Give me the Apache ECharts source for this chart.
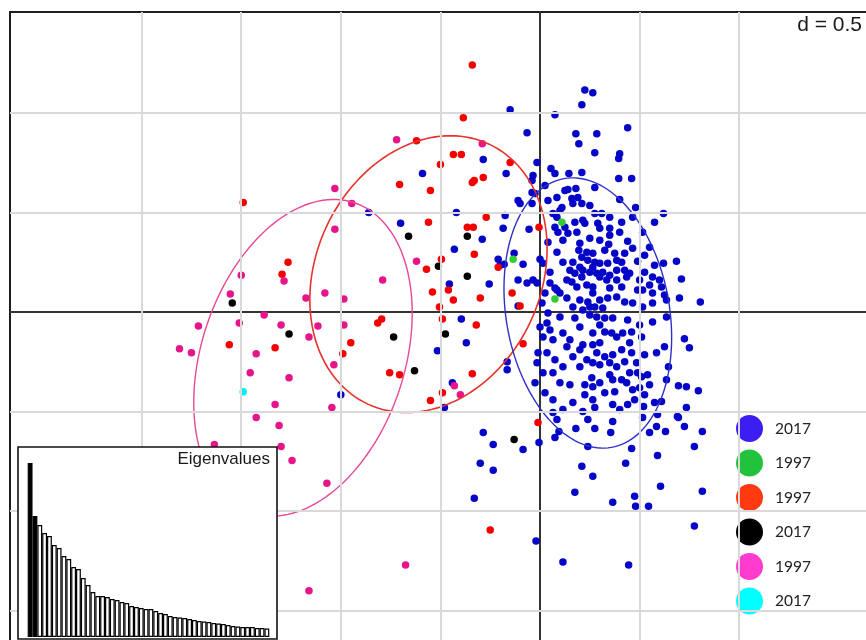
<!DOCTYPE html>
<html>
<head>
<meta charset="utf-8">
<title>s.class</title>
<script src="https://cdn.jsdelivr.net/npm/echarts@6/dist/echarts.min.js"></script>
<style>
html, body { margin: 0; padding: 0; background: #fff; }
#main { width: 866px; height: 640px; }
</style>
</head>
<body>
<div id="main"></div>
<script>
// scores on axes 1/2, one grid square = d = 0.5
var pts2017Blue = [
  [-0.15,1.015],[-0.065,0.9],[-0.015,0.75],[-0.17,0.695],[-0.59,0.695],[-0.285,0.765],[-0.035,0.685],[-0.04,0.66],[0.055,0.72],[0.075,0.695],[0.145,0.695],[0.21,0.7],[0.275,0.8],[0.18,0.895],[0.195,0.845],[0.285,0.895],[0.21,1.04],[0.225,1.115],[0.265,1.1],[0.075,0.99],[0.44,0.925],[0.4,0.795],[0.395,0.77],[0.395,0.67],[0.46,0.67],[0.275,0.625],[0.125,0.61],[0.14,0.615],[0.18,0.62],[-0.04,0.6],[-0.025,0.595],[0.085,0.575],
  [0.16,0.57],[0.19,0.575],[0.21,0.545],[0.165,0.545],[-0.1,0.545],[-0.04,0.545],[0.11,0.525],[0.1,0.51],[0.4,0.565],[0.48,0.525],[-0.175,0.485],[0.065,0.495],[0.085,0.475],[0.275,0.495],[0.31,0.495],[0.35,0.475],[0.465,0.475],[0.575,0.45],[0.62,0.495],[0.175,0.45],[0.225,0.445],[0.075,0.425],[0.09,0.4],[0.125,0.425],[0.14,0.395],[0.115,0.36],[0.185,0.4],[-0.055,0.415],[-0.185,0.42],[0.29,0.445],[0.3,0.42],[0.515,0.4],[0.345,0.34],[0.44,0.355],[-0.86,0.5],[-0.42,0.5],[-0.7,0.445],[-0.29,0.365],[-0.11,0.56],[-0.43,0.315],[-0.21,0.265],[-0.18,0.24],[-0.085,0.24],[0,0.265],[0.195,0.31],[0.235,0.3],[0.265,0.295],[0.21,0.275],[0.24,0.26],[0.375,0.295],[0.425,0.295],[0.525,0.285],[-0.13,0.295],[0.115,0.25],[0.165,0.25],[0.015,0.245],[0.2,0.345],
  [0.275,0.25],[0.3,0.245],[0.34,0.245],[0.385,0.26],[0.41,0.25],[0.49,0.255],[0.62,0.245],[0.685,0.255],[-0.2,0.235],[0.05,0.2],[0.15,0.21],[0.175,0.195],[0.215,0.21],[0.25,0.2],[0.285,0.195],[0.315,0.2],[0.35,0.185],[0.385,0.21],[0.425,0.21],[0.45,0.195],[0.3,0.175],[0.335,0.16],[0.385,0.16],[0.435,0.175],[0.135,0.16],[0.16,0.15],[0.21,0.175],[0.235,0.135],[0.265,0.125],[0.565,0.175],[0.6,0.16],[0.61,0.125],[0.71,0.165],[0.49,0.11],[0.515,0.11],[0.565,0.095],[0.625,0.085],[-0.11,0.16],[-0.065,0.145],[-0.035,0.16],[-0.015,0.145],[0.01,0.045],[0.05,0.145],[0.075,0.12],[0.1,0.095],[0.135,0.07],[0.165,0.025],[0.2,0.06],[0.24,0.05],[0.275,0.025],[0.3,0.06],[0.34,0.07],[0.385,0.075],[0.425,0.05],[0.465,0.045],[0.515,0.025],[0.565,0.045],[0.635,0.06],[0.7,0.07],[0.805,0.05],[0.025,0.095],[0.41,0.125],[0.35,0.12],[-0.455,0.14],[-0.255,0.14],[-0.11,0.03],
  [0.635,-0.025],[0.215,0.01],[0.25,-0.015],[0.285,-0.025],[0.325,-0.03],[0.365,-0.03],[0.565,-0.05],[0.2,-0.075],[0.265,-0.105],[0.325,-0.1],[0.36,-0.105],[0.385,-0.125],[0.415,-0.105],[0.46,-0.1],[0.51,-0.125],[0.625,-0.175],[0.585,-0.205],[0.725,-0.135],[0.75,-0.18],[0.215,-0.165],[0.265,-0.165],[0.285,-0.205],[0.325,-0.225],[0.365,-0.215],[0.41,-0.19],[0.45,-0.155],[0.46,-0.205],[-0.395,-0.035],[-0.37,-0.155],[-0.515,-0.195],[0,-0.075],[0.035,-0.055],[0.015,-0.125],[0.065,-0.14],[-0.01,-0.205],[0.035,-0.205],[0.115,-0.105],[0.135,-0.175],[0.165,-0.225],[0.315,0.02],
  [0.485,-0.255],[0.49,-0.305],[0.51,-0.325],[0.54,-0.315],[0.55,-0.365],[0.645,-0.275],[0.635,-0.34],[0.235,-0.24],[0.265,-0.255],[0.3,-0.265],[0.35,-0.255],[0.385,-0.275],[0.365,-0.34],[0.41,-0.34],[0.435,-0.355],[0.45,-0.305],[0.465,-0.39],[0.26,-0.33],[0.265,-0.375],[0.225,-0.365],[0.325,-0.405],[0.375,-0.4],[0.695,-0.37],[0.735,-0.375],[0.795,-0.395],[0.475,-0.44],[0.4,-0.49],[0.265,-0.44],[0.275,-0.48],[0.365,-0.465],[0.575,-0.455],[0.61,-0.45],[0.735,-0.48],[0.69,-0.525],[0.59,-0.515],[-0.015,-0.255],[0.015,-0.305],[0.065,-0.305],[-0.025,-0.355],[0.025,-0.405],[0.065,-0.44],[0.115,-0.49],[0.065,-0.505],[0.2,-0.275],[0.115,-0.275],[0.165,-0.455],[-0.165,-0.25],[-0.165,-0.29],[-0.44,-0.355],[-0.48,-0.48],[-1.0,-0.415],[0.215,-0.5],
  [0.24,-0.54],[0.275,-0.585],[0.365,-0.55],[0.355,-0.605],[0.44,-0.465],[0.52,-0.475],[0.515,-0.53],[0.585,-0.575],[0.55,-0.605],[0.63,-0.6],[0.695,-0.53],[0.725,-0.575],[0.815,-0.6],[0.775,-0.675],[0.24,-0.675],[0.46,-0.685],[0.59,-0.72],[0.21,-0.775],[0.43,-0.76],[0.265,-0.825],[0.605,-0.875],[0.365,-0.955],[0.475,-0.925],[0.48,-0.975],[0.545,-0.975],[0.815,-0.9],[0.775,-1.075],[0.445,-1.27],[-0.285,-0.605],[-0.235,-0.665],[-0.085,-0.69],[-0.005,-0.655],[0.085,-0.54],[0.095,-0.6],[0.075,-0.63],[0.18,-0.585],[-0.3,-0.76],[-0.235,-0.795],[-0.33,-0.935],[0.175,-0.905],[-0.02,-1.15],[0.115,-1.255],
  [0.215,0.46],[0.265,0.225],[0.2,0.225],[0.085,0.11],[0.185,0.125],[0.265,0.095],[0.25,0.025],[0.3,0.36],[0.35,0.385],[0.25,0.37],[0.4,0.4],[0.465,0.32],[0.55,0.325],[0.575,0.235],[0.525,0.2],[0.5,0.16],[0.55,0.135],[0.3,-0.065],[0.44,-0.04],[0.5,-0.065],[0.175,-0.03],[0.15,-0.14],[0.2,-0.19],[0.3,-0.155],[0.425,-0.25],[0.525,-0.215],[0.525,-0.415],[0.35,-0.315],[0.3,-0.355],[0.225,-0.415],[0.5,-0.38],[0.15,-0.365],[0.1,-0.355],[0.075,-0.24],[0.05,-0.09],[0.04,-0.005],[0.1,-0.025],[0.04,0.35],[0.085,0.3],[0.325,0.31],[0.35,0.42],[0.41,0.45],[0.25,0.535],[0.025,0.635],[0.04,0.56]
];
var pts1997Green = [[0.11,0.45],[-0.135,0.265],[0.075,0.065]];
var pts1997Red = [
  [-0.34,1.24],[-0.385,0.975],[-0.62,0.86],[-0.435,0.79],[-0.395,0.79],[-0.5,0.74],[-0.15,0.75],[-0.285,0.675],[-0.33,0.66],[-0.34,0.65],[-0.705,0.64],[-0.55,0.61],[-0.27,0.475],[-0.56,0.45],[-0.365,0.425],[-0.335,0.425],[-0.33,0.29],[-0.495,0.265],[-0.57,0.215],[-0.21,0.225],[-0.46,0.11],[-0.435,0.06],[-0.3,0.07],[-0.54,0.1],[-0.505,0.025],[-0.14,0.095],[-0.1,0.03],[-0.815,-0.055],[-0.795,-0.035],[-0.95,-0.155],[-0.99,-0.21],[-0.49,-0.035],[-0.32,-0.065],[-0.755,-0.305],[-0.705,-0.315],[-0.34,-0.31],[-0.085,-0.16],[-0.49,-0.405],[-0.55,-0.445],[-0.005,0.425],[-0.01,-0.555],[-0.25,-1.095],[-1.49,0.55],[-1.265,0.25],[-1.295,0.19],[-1.56,-0.165],[-1.33,-0.18]
];
var pts2017Black = [[-0.66,0.38],[-0.365,0.38],[-0.51,0.23],[-0.365,0.18],[-0.735,-0.125],[-0.475,-0.11],[-0.63,-0.295],[-0.13,-0.64],[-1.545,0.045],[-1.26,-0.11]];
var pts1997Pink = [
  [-0.72,0.865],[-0.29,0.845],[-1.03,0.62],[-0.945,0.545],[-1.03,0.415],[-0.62,0.255],[-0.79,0.16],[-1.175,0.07],[-1.08,0.095],[-0.985,0.065],[-1.115,-0.07],[-0.985,-0.065],[-1.16,-0.125],[-1.035,-0.265],[-1.045,-0.48],[-0.43,-0.37],[-0.4,-0.415],[-1.5,0.185],[-1.285,0.155],[-1.555,0.09],[-1.385,-0.015],[-1.715,-0.07],[-1.51,-0.055],[-1.3,-0.065],[-1.81,-0.185],[-1.75,-0.205],[-1.425,-0.21],[-1.455,-0.305],[-1.26,-0.33],[-1.33,-0.465],[-1.425,-0.53],[-1.31,-0.57],[-1.3,-0.675],[-1.245,-0.745],[-1.635,-0.665],[-1.07,-0.86],[-0.675,-1.27],[-1.16,-1.4]
];
var pts2017Cyan = [[-1.49,-0.4]];

// class ellipses: [centre x, centre y, semi-major, semi-minor, major axis angle (deg)]
var ellBlue = [0.24, -0.005, 0.685, 0.41, 100];
var ellRed = [-0.56, 0.19, 0.72, 0.565, 65];
var ellPink = [-1.19, -0.23, 0.82, 0.51, 71.7];

var legendLabels = ['2017', '1997', '1997', '2017', '1997', '2017'];
var gridStepX = [-2, -1.5, -1, -0.5, 0.5, 1];
var gridStepY = [1, 0.5, -0.5, -1, -1.5];

var eigenvalues = [1.74,1.21,1.12,1.04,1.01,0.92,0.89,0.81,0.78,0.70,0.68,0.59,0.52,0.45,0.41,0.41,0.40,0.38,0.37,0.35,0.34,0.31,0.30,0.29,0.28,0.28,0.26,0.24,0.23,0.21,0.20,0.195,0.19,0.18,0.17,0.16,0.155,0.15,0.14,0.135,0.13,0.12,0.11,0.105,0.10,0.10,0.10,0.09,0.09,0.085];

var groups = [
  { name: 'g1', data: pts2017Blue, color: '#0505c8', legendColor: '#3c1ef2' },
  { name: 'g2', data: pts1997Green, color: '#2fcf2f', legendColor: '#22c23c' },
  { name: 'g3', data: pts1997Red, color: '#f50000', legendColor: '#ff3a10' },
  { name: 'g4', data: pts2017Black, color: '#000000', legendColor: '#000000' },
  { name: 'g5', data: pts1997Pink, color: '#e6168a', legendColor: '#ff3ccd' },
  { name: 'g6', data: pts2017Cyan, color: '#00f0f0', legendColor: '#00ffff' }
];
var ellipses = [
  { p: ellPink, color: '#e8479a', width: 1.4 },
  { p: ellRed, color: '#e8322c', width: 1.6 },
  { p: ellBlue, color: '#3030c8', width: 1.4 }
];

function makeEllipseRenderer(width) {
  return function (params, api) {
    var cx = api.value(0), cy = api.value(1), a = api.value(2), b = api.value(3);
    var ang = api.value(4) * Math.PI / 180;
    var pts = [];
    for (var i = 0; i <= 144; i++) {
      var t = i / 144 * 2 * Math.PI;
      var u = a * Math.cos(t), v = b * Math.sin(t);
      pts.push(api.coord([cx + u * Math.cos(ang) - v * Math.sin(ang), cy + u * Math.sin(ang) + v * Math.cos(ang)]));
    }
    return {
      type: 'polyline',
      shape: { points: pts },
      style: { stroke: api.visual('color'), fill: null, lineWidth: width }
    };
  };
}

var chart = echarts.init(document.getElementById('main'));
var series = [];

// light grid squares
series.push({
  type: 'line', data: [], z: 1, silent: true,
  markLine: {
    silent: true, symbol: ['none', 'none'], label: { show: false },
    lineStyle: { color: '#d9d9d9', width: 2, type: 'solid' },
    data: gridStepX.map(function (v) { return { xAxis: v }; })
      .concat(gridStepY.map(function (v) { return { yAxis: v }; }))
  }
});

groups.forEach(function (g) {
  series.push({
    type: 'scatter', name: g.name, data: g.data,
    symbolSize: 7.5, itemStyle: { color: g.color, opacity: 1 },
    silent: true, z: 3
  });
});

ellipses.forEach(function (e) {
  series.push({
    type: 'custom', renderItem: makeEllipseRenderer(e.width), data: [e.p],
    itemStyle: { color: e.color }, silent: true, z: 4
  });
});

// eigenvalue screeplot inset
series.push({
  type: 'bar', xAxisIndex: 1, yAxisIndex: 1, z: 60, silent: true,
  barCategoryGap: '0%',
  data: eigenvalues.map(function (v, i) {
    return i < 2 ? { value: v, itemStyle: { color: '#000' } } : v;
  }),
  itemStyle: { color: '#fff', borderColor: '#000', borderWidth: 1.2 }
});

chart.setOption({
  animation: false,
  backgroundColor: '#fff',
  grid: [
    { left: 10, top: 12, width: 870, height: 641, outerBoundsMode: 'none', containLabel: false,
      show: true, borderColor: '#1e1e1e', borderWidth: 2, backgroundColor: '#fff' },
    { left: 27.7, top: 447, width: 241.6, height: 190, outerBoundsMode: 'none', z: 60 }
  ],
  xAxis: [
    { type: 'value', min: -2.661, max: 1.707,
      axisLine: { show: true, onZero: true, lineStyle: { color: '#333', width: 2 } },
      axisTick: { show: false }, axisLabel: { show: false }, splitLine: { show: false } },
    { type: 'category', gridIndex: 1, data: eigenvalues.map(function (v, i) { return i + 1; }), show: false }
  ],
  yAxis: [
    { type: 'value', min: -1.712, max: 1.506,
      axisLine: { show: true, onZero: true, lineStyle: { color: '#333', width: 2 } },
      axisTick: { show: false }, axisLabel: { show: false }, splitLine: { show: false } },
    { type: 'value', gridIndex: 1, min: 0, max: 1.9, show: false }
  ],
  legend: {
    orient: 'vertical', left: 736, top: 413, padding: [2, 4, 2, 0],
    backgroundColor: '#fff',
    itemWidth: 27, itemHeight: 27, itemGap: 7.5, icon: 'circle',
    selectedMode: false,
    data: groups.map(function (g) { return { name: g.name, itemStyle: { color: g.legendColor } }; }),
    formatter: function (name) {
      for (var i = 0; i < groups.length; i++) if (groups[i].name === name) return legendLabels[i];
      return name;
    },
    textStyle: { fontFamily: 'Lato', fontSize: 15.5, color: '#222', padding: [0, 0, 0, 7] }
  },
  graphic: [
    { type: 'rect', z: 50, shape: { x: 18, y: 447, width: 259, height: 192 },
      style: { fill: '#fff', stroke: '#111', lineWidth: 1.6 } },
    { type: 'text', z: 70, x: 270, y: 459,
      style: { text: 'Eigenvalues', font: '17px "Liberation Sans"', fill: '#1a1a1a', textAlign: 'right', textVerticalAlign: 'middle', align: 'right', verticalAlign: 'middle' } },
    { type: 'text', z: 70, x: 862, y: 25,
      style: { text: 'd = 0.5', font: '21px "Liberation Sans"', fill: '#1a1a1a', textAlign: 'right', textVerticalAlign: 'middle', align: 'right', verticalAlign: 'middle' } }
  ],
  series: series
});
</script>
</body>
</html>
